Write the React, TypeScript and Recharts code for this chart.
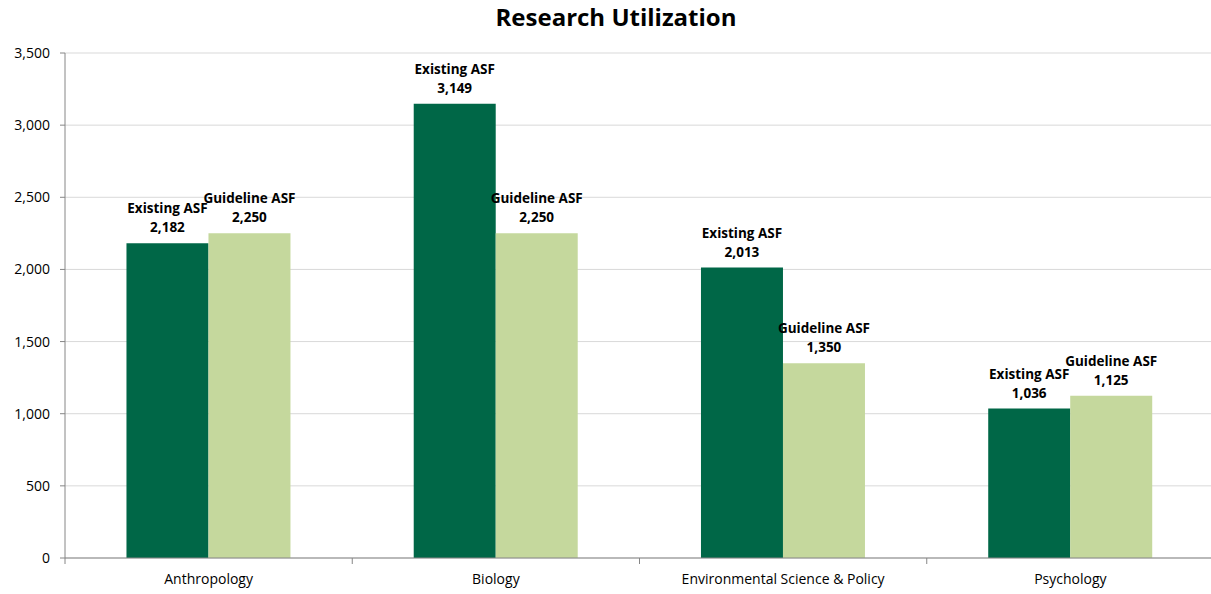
import { BarChart, Bar, XAxis, YAxis, CartesianGrid, LabelList } from "recharts";

const categories = ["Anthropology", "Biology", "Environmental Science & Policy", "Psychology"];
const existingAsf = [2182, 3149, 2013, 1036];
const guidelineAsf = [2250, 2250, 1350, 1125];
const yTicks = [0, 500, 1000, 1500, 2000, 2500, 3000, 3500];

const data = categories.map((name, i) => ({
  name,
  existing: existingAsf[i],
  guideline: guidelineAsf[i],
}));

const FONT = "'Open Sans', sans-serif";
const fmt = (v: number) => v.toLocaleString("en-US");

const makeLabel = (title: string) => (props: any) => {
  const { x, y, width, value } = props;
  const cx = x + width / 2;
  return (
    <text x={cx} textAnchor="middle" fontFamily={FONT} fontSize={13.5} fontWeight="bold" fill="#000">
      <tspan x={cx} y={y - 30}>{title}</tspan>
      <tspan x={cx} y={y - 11}>{fmt(value)}</tspan>
    </text>
  );
};

const CategoryTick = (props: any) => {
  const { x, y, payload, index } = props;
  const half = 1149 / categories.length / 2;
  return (
    <g>
      <line x1={x - half} x2={x - half} y1={y - 8} y2={y - 2} stroke="#868686" />
      <text x={x} y={y + 18} textAnchor="middle" fontFamily={FONT} fontSize={14} fill="#000">
        {payload.value}
      </text>
    </g>
  );
};

export default function App() {
  return (
    <div style={{ position: "absolute", left: 0, top: 0, width: 1211, height: 594, background: "#fff", overflow: "hidden" }}>
      <div
        style={{
          position: "absolute",
          left: 0,
          top: 0,
          width: 1232,
          textAlign: "center",
          fontFamily: FONT,
          fontWeight: "bold",
          fontSize: 24,
          color: "#000",
        }}
      >
        Research Utilization
      </div>
      <BarChart
        width={1214}
        height={594}
        data={data}
        margin={{ top: 53, right: 0, left: 0, bottom: 6 }}
        barGap={0}
        barCategoryGap="21.4%"
      >
        <CartesianGrid vertical={false} stroke="#d9d9d9" />
        <XAxis
          dataKey="name"
          axisLine={{ stroke: "#868686" }}
          tickLine={false}
          tick={<CategoryTick />}
          height={30}
          interval={0}
        />
        <YAxis
          width={65}
          domain={[0, 3500]}
          ticks={yTicks}
          tickFormatter={fmt}
          axisLine={{ stroke: "#868686" }}
          tickLine={{ stroke: "#868686" }}
          tickSize={5}
          tick={{ fontFamily: FONT, fontSize: 14, fill: "#000", dx: -8 }}
        />
        <Bar dataKey="existing" fill="#006747" isAnimationActive={false}>
          <LabelList dataKey="existing" content={makeLabel("Existing ASF")} />
        </Bar>
        <Bar dataKey="guideline" fill="#C5D89D" isAnimationActive={false}>
          <LabelList dataKey="guideline" content={makeLabel("Guideline ASF")} />
        </Bar>
      </BarChart>
    </div>
  );
}
